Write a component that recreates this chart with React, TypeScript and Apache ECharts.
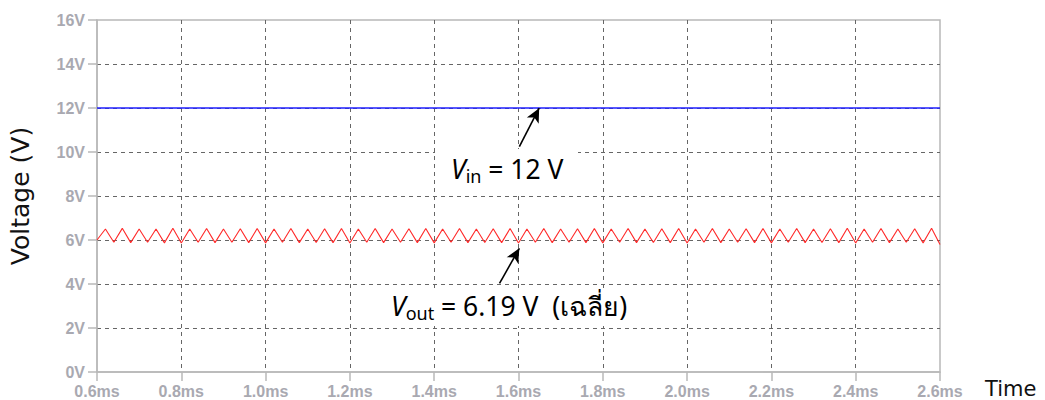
import React, { useEffect, useRef } from "react";
import * as echarts from "echarts";

// Simulation time points (ms)
const timeMs = [
  0.60, 0.62, 0.64, 0.66, 0.68, 0.70, 0.72, 0.74, 0.76, 0.78,
  0.80, 0.82, 0.84, 0.86, 0.88, 0.90, 0.92, 0.94, 0.96, 0.98,
  1.00, 1.02, 1.04, 1.06, 1.08, 1.10, 1.12, 1.14, 1.16, 1.18,
  1.20, 1.22, 1.24, 1.26, 1.28, 1.30, 1.32, 1.34, 1.36, 1.38,
  1.40, 1.42, 1.44, 1.46, 1.48, 1.50, 1.52, 1.54, 1.56, 1.58,
  1.60, 1.62, 1.64, 1.66, 1.68, 1.70, 1.72, 1.74, 1.76, 1.78,
  1.80, 1.82, 1.84, 1.86, 1.88, 1.90, 1.92, 1.94, 1.96, 1.98,
  2.00, 2.02, 2.04, 2.06, 2.08, 2.10, 2.12, 2.14, 2.16, 2.18,
  2.20, 2.22, 2.24, 2.26, 2.28, 2.30, 2.32, 2.34, 2.36, 2.38,
  2.40, 2.42, 2.44, 2.46, 2.48, 2.50, 2.52, 2.54, 2.56, 2.58,
  2.60,
];

// Output voltage ripple (V)
const vOut = [
  6.00, 6.50, 5.90, 6.53, 5.88, 6.50, 5.90, 6.50, 5.87, 6.53,
  5.86, 6.50, 5.90, 6.52, 5.88, 6.50, 5.90, 6.51, 5.88, 6.52,
  5.87, 6.50, 5.90, 6.52, 5.88, 6.50, 5.89, 6.51, 5.88, 6.52,
  5.86, 6.50, 5.90, 6.52, 5.88, 6.50, 5.90, 6.51, 5.88, 6.52,
  5.87, 6.50, 5.90, 6.52, 5.88, 6.50, 5.89, 6.51, 5.88, 6.52,
  5.86, 6.50, 5.90, 6.52, 5.88, 6.50, 5.90, 6.51, 5.88, 6.52,
  5.87, 6.50, 5.90, 6.52, 5.88, 6.50, 5.89, 6.51, 5.88, 6.52,
  5.86, 6.50, 5.90, 6.52, 5.88, 6.50, 5.90, 6.51, 5.88, 6.52,
  5.87, 6.50, 5.90, 6.52, 5.88, 6.50, 5.89, 6.51, 5.88, 6.53,
  5.86, 6.50, 5.90, 6.52, 5.88, 6.50, 5.90, 6.51, 5.87, 6.53,
  5.80,
];

// Input voltage (V)
const vinTime = [0.6, 2.6];
const vinValue = [12, 12];

// Annotation arrows [tStart, vStart, tEnd, vEnd]
const vinArrow = [1.602, 10.24, 1.649, 11.99];
const voutArrow = [1.555, 4.03, 1.602, 5.62];

const xMin = 0.6;
const xMax = 2.6;
const xStep = 0.2;
const yMin = 0;
const yMax = 16;
const yStep = 2;

const labelColor = "#a9a9b1";
const axisColor = "#b8b8b8";
const gridColor = "#666666";
const annFont = "'Noto Sans', 'DejaVu Sans', sans-serif";
const titleFont = "'DejaVu Sans', 'Noto Sans', sans-serif";

export default function App() {
  const ref = useRef<HTMLDivElement>(null);

  useEffect(() => {
    document.body.style.margin = "0";
    if (!ref.current) return;
    const chart = echarts.init(ref.current, undefined, { renderer: "svg" });

    const outData = timeMs.map((t, i) => [t, vOut[i]]);
    const inData = vinTime.map((t, i) => [t, vinValue[i]]);

    const arrowLine = (a: number[]) => ({
      silent: true,
      symbol: ["none", "arrow"],
      symbolSize: [10, 14],
      label: { show: false },
      lineStyle: { color: "#000", width: 1.6, type: "solid" },
      data: [[{ coord: [a[0], a[1]] }, { coord: [a[2], a[3]] }]],
    });

    const subRich = {
      v: { fontFamily: annFont, fontSize: 26.5, fontStyle: "italic", color: "#111", lineHeight: 30 },
      s: { fontFamily: annFont, fontSize: 18, color: "#111", lineHeight: 30, padding: [14, 0, 0, 0] },
      n: { fontFamily: annFont, fontSize: 26.5, color: "#111", lineHeight: 30 },
    };

    chart.setOption({
      animation: false,
      backgroundColor: "#ffffff",
      grid: {
        left: 92,
        right: 105,
        top: 20,
        bottom: 28,
        show: true,
        borderColor: axisColor,
        borderWidth: 1.5,
        backgroundColor: "transparent",
      },
      xAxis: {
        type: "value",
        min: xMin,
        max: xMax,
        interval: xStep,
        axisLine: { show: true, lineStyle: { color: axisColor, width: 1.5 } },
        axisTick: { show: true, length: 9, lineStyle: { color: axisColor, width: 1.5 } },
        axisLabel: {
          color: labelColor,
          fontFamily: "'Liberation Sans', Arial, sans-serif",
          fontWeight: "bold",
          fontSize: 16,
          margin: 11,
          formatter: (v: number) => v.toFixed(1) + "ms",
        },
        splitLine: {
          show: true,
          showMinLine: false,
          showMaxLine: false,
          lineStyle: { color: gridColor, type: [4, 4], width: 1 },
        },
      },
      yAxis: {
        type: "value",
        min: yMin,
        max: yMax,
        interval: yStep,
        name: "Voltage (V)",
        nameLocation: "middle",
        nameGap: 64,
        nameTextStyle: { color: "#111", fontFamily: titleFont, fontSize: 25 },
        axisLine: { show: true, lineStyle: { color: axisColor, width: 1.5 } },
        axisTick: { show: true, length: 9, lineStyle: { color: axisColor, width: 1.5 } },
        axisLabel: {
          color: labelColor,
          fontFamily: "'Liberation Sans', Arial, sans-serif",
          fontWeight: "bold",
          fontSize: 16,
          margin: 12,
          formatter: (v: number) => v + "V",
        },
        splitLine: {
          show: true,
          showMinLine: false,
          showMaxLine: false,
          lineStyle: { color: gridColor, type: [4, 4], width: 1 },
        },
      },
      series: [
        {
          name: "Vin",
          type: "line",
          data: inData,
          showSymbol: false,
          lineStyle: { color: "#1f1fff", width: 1.5 },
          z: 3,
          markLine: arrowLine(vinArrow),
        },
        {
          name: "Vout",
          type: "line",
          data: outData,
          showSymbol: false,
          lineStyle: { color: "#ff2a2a", width: 1.1 },
          z: 3,
          markLine: arrowLine(voutArrow),
        },
      ],
      graphic: [
        { type: "rect", shape: { x: 435, y: 149, width: 143, height: 46 }, style: { fill: "#fff" }, z: 50 },
        {
          type: "text",
          x: 451,
          y: 154,
          z: 51,
          style: { text: "{v|V}{s|in}{n| = 12 V}", rich: subRich },
        },
        { type: "rect", shape: { x: 380, y: 288, width: 262, height: 38 }, style: { fill: "#fff" }, z: 50 },
        {
          type: "text",
          x: 391,
          y: 291,
          z: 51,
          style: { text: "{v|V}{s|out}{n| = 6.19 V  (เฉลี่ย)}", rich: subRich },
        },
        {
          type: "text",
          x: 985,
          y: 389,
          z: 51,
          style: {
            text: "Time",
            fill: "#111",
            font: `21px ${titleFont}`,
            verticalAlign: "middle",
          },
        },
      ],
    });

    return () => chart.dispose();
  }, []);

  return <div ref={ref} style={{ width: 1045, height: 400 }} />;
}
